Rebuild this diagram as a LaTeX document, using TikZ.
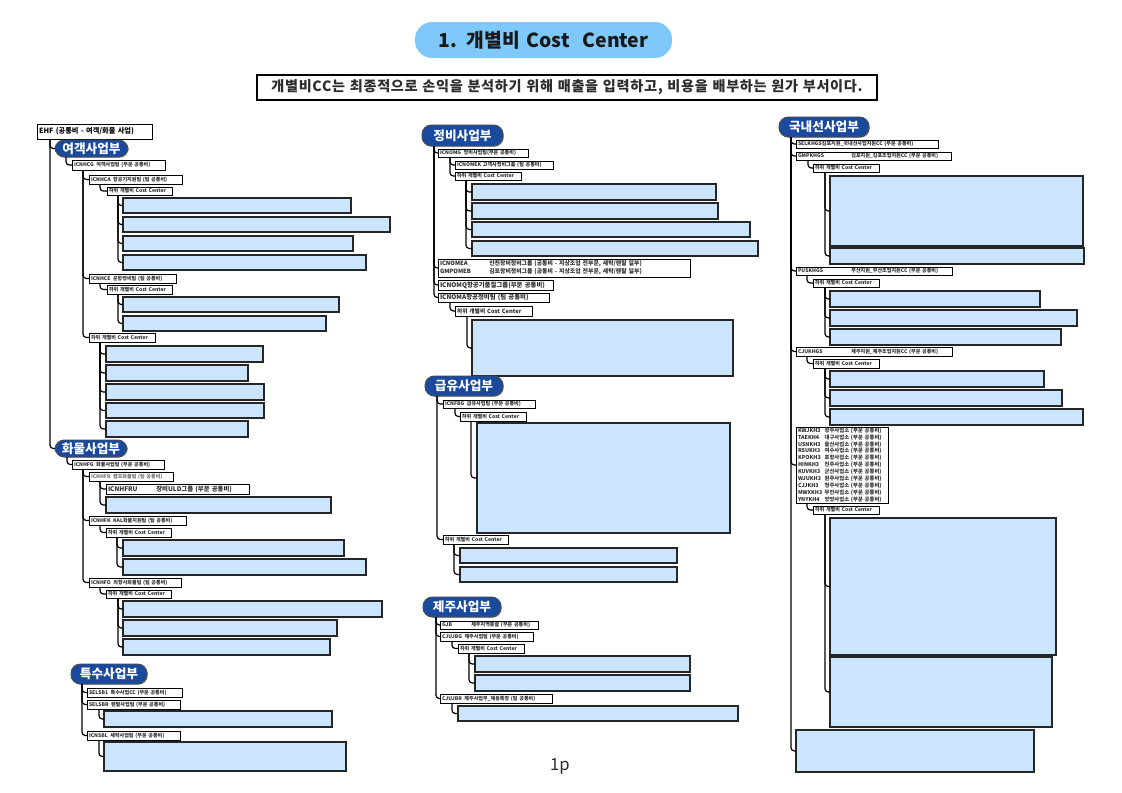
\documentclass[tikz,border=0pt]{standalone}
\usepackage{fontspec}
\setmainfont{Noto Sans CJK KR}
\usetikzlibrary{shadows}
\definecolor{pillblue}{RGB}{26,74,158}
\definecolor{titleblue}{RGB}{127,200,250}
\definecolor{ccblue}{RGB}{204,229,255}
\definecolor{txt}{RGB}{45,45,45}
\tikzset{
  shd/.style={drop shadow={shadow xshift=0.6pt,shadow yshift=-0.6pt,fill=black!35,opacity=1}},
  lbl/.style={draw=black,line width=0.7pt,fill=white,shd,text=txt,align=left,font=\bfseries\fontsize{3.8}{4.6}\selectfont},
  lblm/.style={lbl,font=\bfseries\fontsize{4.8}{6}\selectfont},
  lblb/.style={lbl,font=\bfseries\fontsize{5.4}{6.5}\selectfont,text=black},
  cc/.style={draw=black!85,line width=0.8pt,fill=ccblue,shd},
  pill/.style={draw=black!70,line width=0.7pt,fill=pillblue,rounded corners=7pt,text=white,align=center,font=\bfseries\fontsize{9.5}{11}\selectfont,shd},
  conn/.style={draw=black,line width=0.9pt,rounded corners=2.5pt},
}
\newcommand\bx[7]{%
  \pgfmathsetmacro\bxw{(#4-#2)*0.75-3}%
  \pgfmathsetmacro\bxh{(#5-#3)*0.75}%
  \node[#6,anchor=north west,outer sep=0pt,inner xsep=1.5pt,inner ysep=0pt,text width=\bxw pt,minimum height=\bxh pt] (#1) at (#2,#3) {#7};}
\newcommand\cn[3]{\draw[conn] (#1.south west) ++(#3,0) |- (#2.west);}
\newcommand\kc[1]{\makebox[20pt][l]{#1}}
\begin{document}
\begin{tikzpicture}[x=0.75pt,y=-0.75pt]
\useasboundingbox (0,0) rectangle (1122,793);
\fill[white] (0,0) rectangle (1122,793);
% title
\bx{title}{415}{22}{672}{58}{fill=titleblue,rounded corners=13pt,align=center,text=black!90,font=\bfseries\fontsize{14.5}{16}\selectfont}{1. 개별비 Cost\ \ Center}
\bx{sub}{257}{75}{877}{100}{draw=black,line width=0.8pt,fill=white,align=center,text=txt,font=\bfseries\fontsize{10.6}{12}\selectfont\addfontfeatures{LetterSpace=5}}{개별비CC는 최종적으로 손익을 분석하기 위해 매출을 입력하고, 비용을 배부하는 원가 부서이다.}
% ================= left column
\bx{ehf}{37}{124}{152}{139}{lblb}{EHF (공통비 - 여객/화물 사업)}
\bx{p1}{55}{140}{128}{157}{pill}{여객사업부}
\bx{hcg}{72}{160}{165}{170}{lbl}{ICNHCG\enspace 여객사업팀 (부문 공통비)}
\bx{hca}{89}{175}{182}{184}{lbl}{ICNHCA\enspace 항공기지원팀 (팀 공통비)}
\bx{hs1}{107}{187}{172}{195}{lbl}{하위 개별비 Cost Center}
\bx{b1}{123}{198}{351}{213}{cc}{}
\bx{b2}{123}{217}{390}{232}{cc}{}
\bx{b3}{123}{236}{353}{251}{cc}{}
\bx{b4}{123}{255}{366}{270}{cc}{}
\bx{hce}{89}{274}{176}{283}{lbl}{ICNHCE\enspace 운항정비팀 (팀 공통비)}
\bx{hs2}{107}{285}{172}{294}{lbl}{하위 개별비 Cost Center}
\bx{b5}{123}{297}{339}{312}{cc}{}
\bx{b6}{123}{316}{326}{331}{cc}{}
\bx{hs3}{89}{333}{155}{342}{lbl}{하위 개별비 Cost Center}
\bx{b7}{106}{346}{263}{362}{cc}{}
\bx{b8}{106}{365}{248}{381}{cc}{}
\bx{b9}{106}{384}{264}{400}{cc}{}
\bx{b10}{106}{403}{264}{418}{cc}{}
\bx{b11}{106}{421}{248}{437}{cc}{}
\bx{p2}{55}{440}{127}{457}{pill}{화물사업부}
\bx{hfg}{72}{460}{164}{469}{lbl}{ICNHFG\enspace 화물사업팀 (부문 공통비)}
\bx{hfr}{89}{472}{173}{481}{lbl,text=black!55}{ICNHFR\enspace 램프화물팀 (팀 공통비)}
\bx{hfru}{106}{484}{249}{494}{lblm}{ICNHFRU\hspace{14pt}장비ULD그룹 (부문 공통비)}
\bx{b12}{106}{497}{331}{513}{cc}{}
\bx{hfk}{89}{516}{186}{525}{lbl}{ICNHFK\enspace KAL화물지원팀 (팀 공통비)}
\bx{hs4}{106}{528}{171}{537}{lbl}{하위 개별비 Cost Center}
\bx{b13}{123}{540}{344}{556}{cc}{}
\bx{b14}{123}{559}{366}{575}{cc}{}
\bx{hfo}{89}{578}{181}{587}{lbl}{ICNHFO\enspace 외항사화물팀 (팀 공통비)}
\bx{hs5}{106}{590}{171}{598}{lbl}{하위 개별비 Cost Center}
\bx{b15}{123}{601}{382}{617}{cc}{}
\bx{b16}{123}{620}{337}{636}{cc}{}
\bx{b17}{123}{639}{330}{655}{cc}{}
\bx{p3}{71}{664}{147}{684}{pill}{특수사업부}
\bx{sb1}{87}{688}{182}{697}{lbl}{SELSB1\enspace 특수사업CC (부문 공통비)}
\bx{sbr}{87}{700}{180}{709}{lbl}{SELSBR\enspace 렌탈사업팀 (부문 공통비)}
\bx{b18}{104}{711}{332}{727}{cc}{}
\bx{sbl}{87}{731}{180}{740}{lbl}{ICNSBL\enspace 세탁사업팀 (부문 공통비)}
\bx{b19}{104}{742}{346}{771}{cc}{}
% ================= middle column
\bx{p4}{422}{125}{503}{146}{pill}{정비사업부}
\bx{omg}{438}{149}{528}{157}{lbl}{ICNOMG\enspace 정비사업팀(부문 공통비)}
\bx{omek}{455}{161}{553}{169}{lbl}{ICNOMEK 고객사정비그룹 (팀 공통비)}
\bx{hs6}{455}{172}{521}{180}{lbl}{하위 개별비 Cost Center}
\bx{b20}{472}{184}{716}{200}{cc}{}
\bx{b21}{472}{203}{718}{219}{cc}{}
\bx{b22}{472}{222}{750}{237}{cc}{}
\bx{b23}{472}{241}{758}{256}{cc}{}
\bx{omea}{438}{259}{690}{277}{lbl,font=\bfseries\fontsize{4.4}{6}\selectfont}{\makebox[37pt][l]{ICNOMEA}인천장비정비그룹 (공통비 - 지상조업 전부문, 세탁/렌탈 일부)\\\makebox[37pt][l]{GMPOMEB}김포장비정비그룹 (공통비 - 지상조업 전부문, 세탁/렌탈 일부)}
\bx{omq}{438}{280}{553}{290}{lblm}{ICNOMQ항공기품질그룹(부문 공통비)}
\bx{oma}{438}{293}{549}{302}{lblm}{ICNOMA항공정비팀 (팀 공통비)}
\bx{hs7}{455}{306}{532}{316}{lbl,font=\bfseries\fontsize{4.3}{5}\selectfont}{하위 개별비 Cost Center}
\bx{b24}{472}{320}{733}{376}{cc}{}
\bx{p5}{425}{376}{503}{396}{pill}{급유사업부}
\bx{fbg}{443}{400}{535}{408}{lbl}{ICNFBG\enspace 급유사업팀 (부문 공통비)}
\bx{hs8}{460}{412}{526}{421}{lbl}{하위 개별비 Cost Center}
\bx{b25}{477}{423}{730}{533}{cc}{}
\bx{hs9}{443}{535}{508}{544}{lbl}{하위 개별비 Cost Center}
\bx{b26}{460}{548}{677}{563}{cc}{}
\bx{b27}{460}{567}{677}{582}{cc}{}
\bx{p6}{423}{597}{501}{617}{pill}{제주사업부}
\bx{gjb}{440}{621}{538}{629}{lbl}{\makebox[22pt][l]{GJB}제주지역총괄 (부문 공통비)}
\bx{jbg}{440}{632}{533}{641}{lbl}{CJUJBG\enspace 제주사업팀 (부문 공통비)}
\bx{hs10}{458}{644}{524}{653}{lbl}{하위 개별비 Cost Center}
\bx{b28}{475}{656}{690}{672}{cc}{}
\bx{b29}{475}{675}{690}{691}{cc}{}
\bx{jbr}{440}{694}{552}{703}{lbl}{CJUJBR\enspace 제주사업부\_제동특장 (팀 공통비)}
\bx{b30}{458}{706}{738}{721}{cc}{}
\node[font=\fontsize{12.5}{14}\selectfont,text=txt] (pg) at (560,766) {1p};
% ================= right column
\bx{p7}{779}{117}{869}{137}{pill}{국내선사업부}
\bx{kh1}{796}{140}{938}{148}{lbl}{SELKHGS김포지원\_국내선사업지원CC (부문 공통비)}
\bx{kh2}{796}{152}{951}{160}{lbl}{\makebox[40pt][l]{GMPKHGS}김포지원\_김포조업지원CC (부문 공통비)}
\bx{hs11}{813}{164}{879}{172}{lbl}{하위 개별비 Cost Center}
\bx{b31}{830}{176}{1083}{246}{cc}{}
\bx{b32}{830}{248}{1084}{264}{cc}{}
\bx{kh3}{796}{267}{952}{275}{lbl}{\makebox[40pt][l]{PUSKHGS}부산지원\_부산조업지원CC (부문 공통비)}
\bx{hs12}{813}{279}{879}{287}{lbl}{하위 개별비 Cost Center}
\bx{b33}{830}{291}{1040}{307}{cc}{}
\bx{b34}{830}{310}{1077}{326}{cc}{}
\bx{b35}{830}{329}{1061}{345}{cc}{}
\bx{kh4}{796}{347}{952}{356}{lbl}{\makebox[40pt][l]{CJUKHGS}제주지원\_제주조업지원CC (부문 공통비)}
\bx{hs13}{813}{359}{879}{368}{lbl}{하위 개별비 Cost Center}
\bx{b36}{830}{371}{1044}{387}{cc}{}
\bx{b37}{830}{390}{1062}{406}{cc}{}
\bx{b38}{830}{409}{1083}{425}{cc}{}
\bx{kh5}{796}{427}{888}{503}{lbl,font=\bfseries\fontsize{4.0}{5.15}\selectfont}{%
\kc{KWJKH3}광주사업소 (부문 공통비)\\
\kc{TAEKH4}대구사업소 (부문 공통비)\\
\kc{USNKH3}울산사업소 (부문 공통비)\\
\kc{RSUKH3}여수사업소 (부문 공통비)\\
\kc{KPOKH3}포항사업소 (부문 공통비)\\
\kc{HINKH3}진주사업소 (부문 공통비)\\
\kc{KUVKH3}군산사업소 (부문 공통비)\\
\kc{WJUKH3}원주사업소 (부문 공통비)\\
\kc{CJJKH3}청주사업소 (부문 공통비)\\
\kc{MWXKH3}무안사업소 (부문 공통비)\\
\kc{YNYKH4}양양사업소 (부문 공통비)}
\bx{hs14}{813}{506}{879}{514}{lbl}{하위 개별비 Cost Center}
\bx{b39}{830}{518}{1056}{655}{cc}{}
\bx{b40}{830}{657}{1052}{727}{cc}{}
\bx{b41}{796}{730}{1034}{772}{cc}{}
% ================= connectors
\cn{ehf}{p1}{13} \cn{ehf}{p2}{13}
\cn{p1}{hcg}{11}
\cn{hcg}{hca}{11} \cn{hcg}{hce}{11} \cn{hcg}{hs3}{11}
\cn{hca}{hs1}{11}
\foreach \b in {b1,b2,b3,b4}{\cn{hs1}{\b}{11}}
\cn{hce}{hs2}{11}
\foreach \b in {b5,b6}{\cn{hs2}{\b}{11}}
\foreach \b in {b7,b8,b9,b10,b11}{\cn{hs3}{\b}{11}}
\cn{p2}{hfg}{12}
\cn{hfg}{hfr}{11} \cn{hfg}{hfk}{11} \cn{hfg}{hfo}{11}
\cn{hfr}{hfru}{11} \cn{hfr}{b12}{11}
\cn{hfk}{hs4}{11}
\foreach \b in {b13,b14}{\cn{hs4}{\b}{11}}
\cn{hfo}{hs5}{11}
\foreach \b in {b15,b16,b17}{\cn{hs5}{\b}{12}}
\cn{p3}{sb1}{11} \cn{p3}{sbr}{11} \cn{p3}{sbl}{11}
\cn{sbr}{b18}{12} \cn{sbl}{b19}{12}
\cn{p4}{omg}{12} \cn{p4}{omea}{12} \cn{p4}{omq}{12} \cn{p4}{oma}{12}
\cn{omg}{omek}{12} \cn{omg}{hs6}{12}
\foreach \b in {b20,b21,b22,b23}{\cn{hs6}{\b}{11}}
\cn{oma}{hs7}{12} \cn{hs7}{b24}{12}
\cn{p5}{fbg}{12} \cn{p5}{hs9}{12}
\cn{fbg}{hs8}{12} \cn{hs8}{b25}{11}
\foreach \b in {b26,b27}{\cn{hs9}{\b}{11}}
\cn{p6}{gjb}{13} \cn{p6}{jbg}{13} \cn{p6}{jbr}{13}
\cn{jbg}{hs10}{12}
\foreach \b in {b28,b29}{\cn{hs10}{\b}{11}}
\cn{jbr}{b30}{12}
\foreach \b in {kh1,kh2,kh3,kh4,kh5,b41}{\cn{p7}{\b}{12}}
\cn{kh2}{hs11}{12}
\foreach \b in {b31,b32}{\cn{hs11}{\b}{12}}
\cn{kh3}{hs12}{11}
\foreach \b in {b33,b34,b35}{\cn{hs12}{\b}{12}}
\cn{kh4}{hs13}{11}
\foreach \b in {b36,b37,b38}{\cn{hs13}{\b}{12}}
\cn{kh5}{hs14}{11}
\foreach \b in {b39,b40}{\cn{hs14}{\b}{12}}
\end{tikzpicture}
\end{document}
